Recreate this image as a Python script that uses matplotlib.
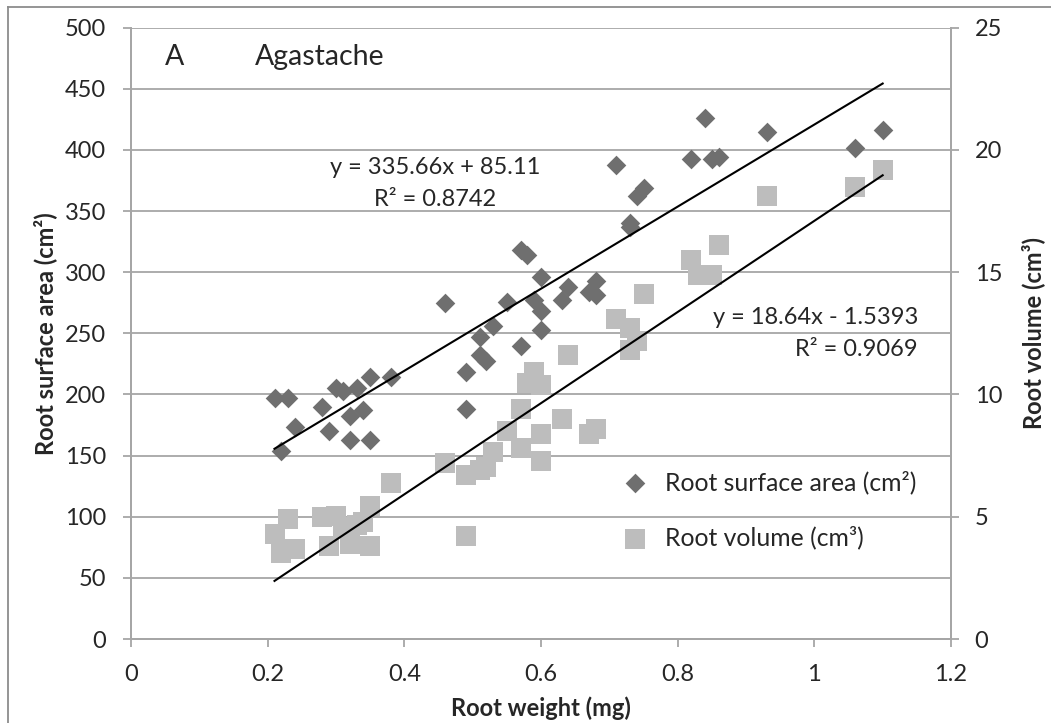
import matplotlib
matplotlib.use("Agg")
import matplotlib.pyplot as plt
from matplotlib.lines import Line2D

plt.rcParams['font.family'] = ['Lato', 'DejaVu Sans']

# data
area_x = [0.21, 0.22, 0.23, 0.24, 0.28, 0.29, 0.30, 0.31, 0.32, 0.32, 0.33, 0.34,
          0.35, 0.35, 0.38, 0.46, 0.49, 0.49, 0.51, 0.51, 0.52, 0.53, 0.55, 0.57,
          0.57, 0.58, 0.59, 0.60, 0.60, 0.60, 0.63, 0.64, 0.67, 0.68, 0.68, 0.71,
          0.73, 0.73, 0.74, 0.75, 0.82, 0.84, 0.85, 0.86, 0.93, 1.06, 1.10]
area = [197, 154, 197, 173, 190, 170, 205, 203, 182, 163, 205, 187,
        214, 163, 214, 275, 218, 188, 247, 232, 227, 256, 276, 240,
        318, 314, 277, 296, 268, 253, 277, 288, 284, 293, 281, 388,
        340, 337, 362, 369, 393, 426, 393, 394, 415, 402, 416]

vol_x = [0.21, 0.22, 0.23, 0.24, 0.28, 0.29, 0.30, 0.31, 0.32, 0.33, 0.34, 0.35,
         0.35, 0.38, 0.46, 0.49, 0.49, 0.51, 0.52, 0.53, 0.55, 0.57, 0.57, 0.58,
         0.59, 0.60, 0.60, 0.60, 0.63, 0.64, 0.67, 0.68, 0.71, 0.73, 0.73, 0.74,
         0.75, 0.82, 0.83, 0.85, 0.86, 0.93, 1.06, 1.10]
vol = [4.3, 3.5, 4.9, 3.7, 5.0, 3.8, 5.05, 4.6, 3.9, 4.65, 4.8, 5.45,
       3.8, 6.4, 7.2, 6.7, 4.2, 6.9, 7.05, 7.65, 8.5, 9.4, 7.8, 10.45,
       10.9, 10.4, 8.4, 7.3, 9.0, 11.6, 8.4, 8.6, 13.1, 12.7, 11.8, 12.2,
       14.1, 15.5, 14.9, 14.9, 16.1, 18.1, 18.5, 19.2]

# trendline coefficients as printed on the chart
area_fit = (335.66, 85.11)
vol_fit = (18.64, -1.5393)

W, H = 1051, 723
def fx(px):
    return (px - 131) / 820.0
def fy(py):
    return (639 - py) / 611.3

txt = '#262626'
grid = '#a6a6a6'
fs = 17

fig = plt.figure(figsize=(W / 100, H / 100), dpi=100)
ax = fig.add_axes([131 / W, (H - 639) / H, 820 / W, 611.3 / H])
ax2 = ax.twinx()

ax.set_xlim(0, 1.2)
ax.set_ylim(0, 500)
ax2.set_ylim(0, 25)
ax.set_xticks([0, 0.2, 0.4, 0.6, 0.8, 1, 1.2])
ax.set_xticklabels(['0', '0.2', '0.4', '0.6', '0.8', '1', '1.2'])
ax.set_yticks(range(0, 501, 50))
ax2.set_yticks(range(0, 26, 5))

ax.grid(axis='y', color=grid, lw=1.3)
ax.set_axisbelow(True)
for a in (ax, ax2):
    a.spines['top'].set_visible(False)
    for s in ('left', 'bottom', 'right'):
        a.spines[s].set_color(grid)
        a.spines[s].set_linewidth(1.3)
ax.tick_params(axis='both', direction='out', length=6, width=1.3, color=grid,
               labelsize=fs, labelcolor=txt, pad=12)
ax2.tick_params(axis='y', direction='out', length=6, width=1.3, color=grid,
                labelsize=fs, labelcolor=txt, pad=11)

xs = [min(area_x), max(area_x)]
ax.plot(xs, [area_fit[0] * x + area_fit[1] for x in xs], color='black', lw=1.5, zorder=4)
xs2 = [min(vol_x), max(vol_x)]
ax2.plot(xs2, [vol_fit[0] * x + vol_fit[1] for x in xs2], color='black', lw=1.5, zorder=4)

h1 = ax.scatter(area_x, area, marker='D', s=100, color='#6f6f6f', lw=0, zorder=3,
                label='Root surface area (cm²)')
h2 = ax2.scatter(vol_x, vol, marker='s', s=200, color='#bdbdbd', lw=0, zorder=3,
                 label='Root volume (cm³)')

ax.set_xlabel('Root weight (mg)', fontsize=fs, fontweight='bold', color=txt)
ax.set_ylabel('Root surface area (cm²)', fontsize=fs, fontweight='bold', color=txt)
ax2.set_ylabel('Root volume (cm³)', fontsize=fs, fontweight='bold', color=txt, rotation=90)
ax.xaxis.set_label_coords(0.5, fy(696))
ax.yaxis.set_label_coords(fx(57), 0.5)
ax2.yaxis.set_label_coords(fx(1021), 0.5)

ax.text(fx(165), fy(57), 'A', transform=ax.transAxes, fontsize=20.5, color=txt, va='center')
ax.text(fx(255), fy(57), 'Agastache', transform=ax.transAxes, fontsize=20.5, color=txt, va='center')
ax.text(fx(435), fy(167), 'y = 335.66x + 85.11', transform=ax.transAxes, fontsize=fs,
        color=txt, ha='center', va='center')
ax.text(fx(435), fy(199), 'R² = 0.8742', transform=ax.transAxes, fontsize=fs,
        color=txt, ha='center', va='center')
ax.text(fx(918), fy(317), 'y = 18.64x - 1.5393', transform=ax.transAxes, fontsize=fs,
        color=txt, ha='right', va='center')
ax.text(fx(918), fy(350), 'R² = 0.9069', transform=ax.transAxes, fontsize=fs,
        color=txt, ha='right', va='center')

leg = ax2.legend([h1, h2], [h1.get_label(), h2.get_label()], loc='center left',
                 bbox_to_anchor=(fx(623), fy(510)), frameon=False, fontsize=17.8,
                 scatterpoints=1, handlelength=1, handletextpad=0.7,
                 labelspacing=1.3, borderpad=0, borderaxespad=0)
for t in leg.get_texts():
    t.set_color(txt)

# outer chart border (top and left visible)
fig.add_artist(Line2D([8 / W, 1], [1 - 7 / H, 1 - 7 / H], color='#8c8c8c', lw=1.3))
fig.add_artist(Line2D([8 / W, 8 / W], [0, 1 - 7 / H], color='#8c8c8c', lw=1.3))

fig.savefig('out.png', dpi=100)
